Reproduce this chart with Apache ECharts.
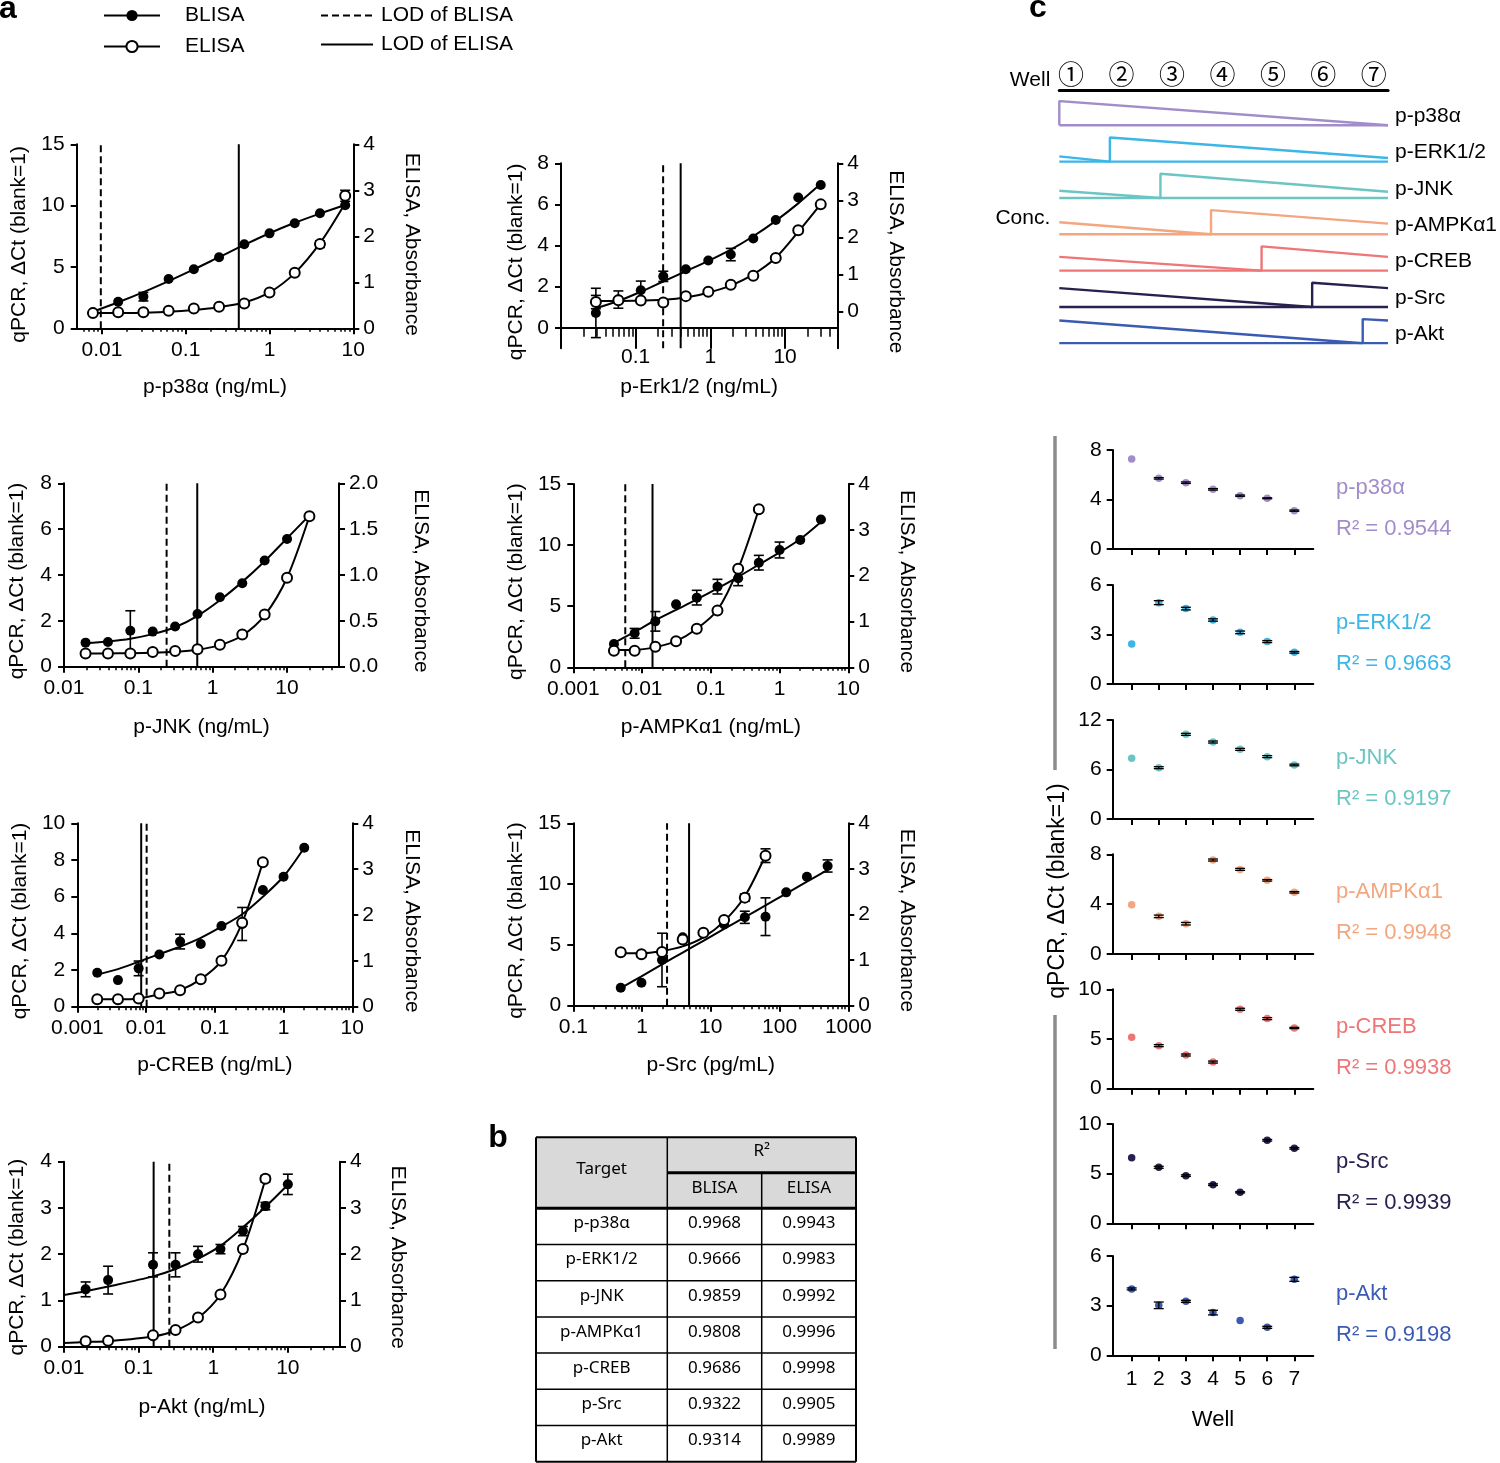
<!DOCTYPE html>
<html>
<head>
<meta charset="utf-8">
<script src="https://cdn.jsdelivr.net/npm/echarts@6.0.0/dist/echarts.min.js"></script>
<style>
html,body{margin:0;padding:0;background:#fff;}
#chart{width:1500px;height:1463px;}
</style>
</head>
<body>
<div id="chart"></div>
<script>
// ================= DATA =================
// ---- Panel a: standard curves ----
const p38X = [0.0078125, 0.015625, 0.03125, 0.0625, 0.125, 0.25, 0.5, 1, 2, 4, 8];
const p38Blisa = [1.3, 2.17, 2.58, 4.02, 4.81, 5.79, 6.85, 7.74, 8.56, 9.38, 10.03];
const p38BlisaErr = [0, 0, 0.35, 0, 0, 0, 0, 0, 0, 0, 0];
const p38BlisaFit = [1.35, 2.12, 2.95, 3.85, 4.8, 5.8, 6.8, 7.75, 8.6, 9.35, 10.05];
const p38Elisa = [0.33, 0.35, 0.35, 0.38, 0.43, 0.47, 0.54, 0.78, 1.21, 1.83, 2.88];
const p38ElisaErr = [0, 0, 0, 0, 0, 0, 0, 0, 0, 0.07, 0.12];
const p38ElisaFit = [0.33, 0.33, 0.34, 0.36, 0.4, 0.46, 0.56, 0.78, 1.2, 1.85, 2.72];
const p38Lod = [0.0097, 0.43];

const erkX = [0.0293, 0.0586, 0.117, 0.234, 0.469, 0.9375, 1.875, 3.75, 7.5, 15, 30];
const erkBlisa = [0.72, 1.37, 1.82, 2.5, 2.85, 3.27, 3.56, 4.34, 5.24, 6.34, 6.94];
const erkBlisaErr = [1.2, 0.42, 0.45, 0.25, 0, 0, 0.3, 0, 0, 0, 0];
const erkBlisaFit = [0.95, 1.3, 1.75, 2.25, 2.75, 3.25, 3.8, 4.45, 5.2, 6.05, 7.0];
const erkElisa = [0.25, 0.3, 0.29, 0.24, 0.41, 0.53, 0.72, 0.96, 1.44, 2.19, 2.89];
const erkElisaErr = [0.18, 0, 0, 0, 0, 0, 0, 0, 0, 0, 0];
const erkElisaFit = [0.28, 0.28, 0.29, 0.31, 0.37, 0.5, 0.7, 1.0, 1.45, 2.15, 2.9];
const erkLod = [0.233, 0.4];

const jnkX = [0.0195, 0.039, 0.078, 0.156, 0.3125, 0.625, 1.25, 2.5, 5, 10, 20];
const jnkBlisa = [1.05, 1.08, 1.57, 1.53, 1.75, 2.3, 3.03, 3.64, 4.63, 5.57, 6.57];
const jnkBlisaErr = [0, 0, 0.87, 0, 0, 0, 0, 0, 0, 0, 0];
const jnkBlisaFit = [1.02, 1.1, 1.22, 1.42, 1.72, 2.22, 2.9, 3.7, 4.6, 5.6, 6.6];
const jnkElisa = [0.145, 0.145, 0.145, 0.16, 0.17, 0.19, 0.24, 0.35, 0.57, 0.97, 1.64];
const jnkElisaErr = [0, 0, 0, 0, 0, 0, 0, 0, 0, 0, 0];
const jnkElisaFit = [0.145, 0.145, 0.147, 0.152, 0.163, 0.185, 0.235, 0.34, 0.56, 0.97, 1.64];
const jnkLod = [0.24, 0.62];

const ampkX = [0.0039, 0.0078, 0.0156, 0.03125, 0.0625, 0.125, 0.25, 0.5, 1, 2, 4];
const ampkBlisa = [1.91, 2.78, 3.76, 5.15, 5.7, 6.6, 7.28, 8.56, 9.6, 10.42, 12.1];
const ampkBlisaErr = [0, 0.4, 0.8, 0, 0.6, 0.6, 0.6, 0.6, 0.65, 0, 0];
const ampkBlisaFit = [2.0, 2.9, 3.85, 4.7, 5.55, 6.45, 7.4, 8.4, 9.4, 10.5, 11.9];
const ampkElisaX = [0.0039, 0.0078, 0.0156, 0.03125, 0.0625, 0.125, 0.25, 0.5];
const ampkElisa = [0.36, 0.36, 0.45, 0.57, 0.84, 1.24, 2.15, 3.45];
const ampkElisaErr = [0, 0, 0, 0, 0, 0, 0, 0];
const ampkElisaFit = [0.38, 0.38, 0.44, 0.57, 0.84, 1.25, 2.15, 3.45];
const ampkLod = [0.0057, 0.0142];

const crebX = [0.00195, 0.0039, 0.0078, 0.0156, 0.03125, 0.0625, 0.125, 0.25, 0.5, 1, 2];
const crebBlisa = [1.85, 1.45, 2.09, 2.85, 3.55, 3.42, 4.4, 4.51, 6.36, 7.09, 8.67];
const crebBlisaErr = [0, 0, 0.4, 0, 0.4, 0, 0, 0.9, 0, 0, 0];
const crebBlisaFit = [1.75, 2.05, 2.45, 2.87, 3.27, 3.75, 4.36, 5.04, 6.0, 7.1, 8.67];
const crebElisaX = [0.00195, 0.0039, 0.0078, 0.0156, 0.03125, 0.0625, 0.125, 0.25, 0.5];
const crebElisa = [0.16, 0.16, 0.18, 0.29, 0.36, 0.6, 1.0, 1.83, 3.15];
const crebElisaErr = [0, 0, 0, 0, 0, 0, 0, 0, 0];
const crebElisaFit = [0.16, 0.16, 0.18, 0.27, 0.36, 0.6, 1.0, 1.83, 3.15];
const crebLod = [0.0102, 0.0085];

const srcX = [0.49, 0.98, 1.95, 3.9, 7.8, 15.6, 31.25, 62.5, 125, 250, 500];
const srcBlisa = [1.48, 1.89, 3.76, 5.62, 6.03, 6.69, 7.27, 7.32, 9.32, 10.61, 11.49];
const srcBlisaErr = [0, 0, 2.2, 0, 0, 0, 0.5, 1.55, 0, 0, 0.5];
const srcBlisaFit = [1.45, 2.42, 3.4, 4.37, 5.34, 6.31, 7.28, 8.25, 9.22, 10.2, 11.16];
const srcElisaX = [0.49, 0.98, 1.95, 3.9, 7.8, 15.6, 31.25, 62.5];
const srcElisa = [1.17, 1.13, 1.18, 1.45, 1.6, 1.88, 2.37, 3.29];
const srcElisaErr = [0, 0, 0, 0, 0, 0, 0.08, 0.15];
const srcElisaFit = [1.15, 1.15, 1.2, 1.3, 1.5, 1.85, 2.4, 3.3];
const srcLod = [2.31, 4.83];

const aktX = [0.0195, 0.039, 0.156, 0.3125, 0.625, 1.25, 2.5, 5, 10];
const aktBlisa = [1.24, 1.44, 1.77, 1.77, 2.0, 2.11, 2.5, 3.04, 3.51];
const aktBlisaErr = [0.16, 0.3, 0.26, 0.26, 0.17, 0.1, 0.1, 0.08, 0.22];
const aktBlisaFitX = [0.01, 0.0195, 0.039, 0.156, 0.3125, 0.625, 1.25, 2.5, 5, 10];
const aktBlisaFit = [1.12, 1.2, 1.3, 1.52, 1.68, 1.9, 2.18, 2.58, 3.02, 3.5];
const aktElisaX = [0.0195, 0.039, 0.156, 0.3125, 0.625, 1.25, 2.5, 5];
const aktElisa = [0.12, 0.13, 0.25, 0.36, 0.63, 1.13, 2.11, 3.63];
const aktElisaErr = [0, 0, 0, 0, 0, 0, 0.06, 0.07];
const aktElisaFitX = [0.01, 0.0195, 0.039, 0.156, 0.3125, 0.625, 1.25, 2.5, 5];
const aktElisaFit = [0.08, 0.1, 0.12, 0.22, 0.35, 0.62, 1.13, 2.1, 3.62];
const aktLod = [0.258, 0.159];

const minorMultipliers = [2, 3, 4, 5, 6, 7, 8, 9];

// ---- Panel b: table ----
const tableHead = ['Target', 'BLISA', 'ELISA'];
const tableTargets = ['p-p38α', 'p-ERK1/2', 'p-JNK', 'p-AMPKα1', 'p-CREB', 'p-Src', 'p-Akt'];
const tableBlisa = ['0.9968', '0.9666', '0.9859', '0.9808', '0.9686', '0.9322', '0.9314'];
const tableElisa = ['0.9943', '0.9983', '0.9992', '0.9996', '0.9998', '0.9905', '0.9989'];

// ---- Panel c ----
const wells = [1, 2, 3, 4, 5, 6, 7];
const wellLabels = ['①', '②', '③', '④', '⑤', '⑥', '⑦'];
const cTargets = ['p-p38α', 'p-ERK1/2', 'p-JNK', 'p-AMPKα1', 'p-CREB', 'p-Src', 'p-Akt'];
const cR2 = ['0.9544', '0.9663', '0.9197', '0.9948', '0.9938', '0.9939', '0.9198'];
const cColors = ['#a18dc9', '#3cb6e7', '#6cc5c3', '#f3a67f', '#ee7677', '#27214f', '#3a5bb1'];
const concPeakWell = [1, 2, 3, 4, 5, 6, 7];
const concRightEnd = [0, 0.15, 0.26, 0.44, 0.57, 0.78, 0.94];
const concLeftStart = [null, 0.22, 0.3, 0.5, 0.57, 0.78, 0.94];
const cP38 = [7.28, 5.71, 5.36, 4.82, 4.31, 4.1, 3.1];
const cP38Err = [0, 0.06, 0.06, 0.06, 0.05, 0.04, 0.05];
const cErk = [2.42, 4.93, 4.57, 3.88, 3.13, 2.57, 1.92];
const cErkErr = [0, 0.12, 0.08, 0.07, 0.08, 0.06, 0.05];
const cJnk = [7.35, 6.22, 10.26, 9.33, 8.44, 7.56, 6.55];
const cJnkErr = [0, 0.12, 0.12, 0.12, 0.12, 0.12, 0.1];
const cAmpk = [3.96, 3.02, 2.43, 7.54, 6.79, 5.91, 4.95];
const cAmpkErr = [0, 0.1, 0.1, 0.08, 0.08, 0.06, 0.06];
const cCreb = [5.17, 4.33, 3.39, 2.68, 7.99, 7.05, 6.11];
const cCrebErr = [0, 0.1, 0.1, 0.1, 0.1, 0.1, 0.06];
const cSrc = [6.61, 5.64, 4.8, 3.89, 3.12, 8.36, 7.55];
const cSrcErr = [0, 0.1, 0.08, 0.08, 0.06, 0.08, 0.08];
const cAkt = [4.01, 3.02, 3.26, 2.58, 2.11, 1.69, 4.59];
const cAktErr = [0.06, 0.2, 0.06, 0.14, 0, 0.06, 0.12];
const cYMax = [8, 6, 12, 8, 10, 10, 6];
const cYTicks = [[0, 4, 8], [0, 3, 6], [0, 6, 12], [0, 4, 8], [0, 5, 10], [0, 5, 10], [0, 3, 6]];

// ================= LAYOUT / BUILD =================
const FONT = '"Liberation Sans", Arial, Helvetica, sans-serif';
const TFONT = '"Noto Sans", "Open Sans", sans-serif';
const FS = 21;

const aPlots = [
  {xName: 'p-p38α (ng/mL)', box: [76.7, 144.3, 276.6, 184], xr: [0.005, 10], xt: [0.01, 0.1, 1, 10],
   yl: [0, 15], ylt: [0, 5, 10, 15], yr: [0, 4], yrt: [0, 1, 2, 3, 4], dec: 0, gL: 47, gR: 48, gX: 48, tl: 6, ml: 3.5, lm: 11, sh: 8,
   bX: p38X, b: p38Blisa, bE: p38BlisaErr, bFX: p38X, bF: p38BlisaFit,
   eX: p38X, e: p38Elisa, eE: p38ElisaErr, eFX: p38X, eF: p38ElisaFit, lod: p38Lod},
  {xName: 'p-Erk1/2 (ng/mL)', box: [561, 163.3, 276.3, 185], xr: [0.01, 50], xt: [0.1, 1, 10],
   yl: [-1, 8], ylt: [0, 2, 4, 6, 8], yr: [-1, 4], yrt: [0, 1, 2, 3, 4], dec: 0, gL: 34, gR: 48, gX: 28, tl: 21, ml: 9, lm: -2, sh: 6,
   bX: erkX, b: erkBlisa, bE: erkBlisaErr, bFX: erkX, bF: erkBlisaFit,
   eX: erkX, e: erkElisa, eE: erkElisaErr, eFX: erkX, eF: erkElisaFit, lod: erkLod},
  {xName: 'p-JNK (ng/mL)', box: [64, 483.3, 275, 183.4], xr: [0.01, 50], xt: [0.01, 0.1, 1, 10],
   yl: [0, 8], ylt: [0, 2, 4, 6, 8], yr: [0, 2], yrt: [0, 0.5, 1, 1.5, 2], dec: 1, gL: 36, gR: 71, gX: 50, tl: 6, ml: 3.5, lm: 11, sh: 6,
   bX: jnkX, b: jnkBlisa, bE: jnkBlisaErr, bFX: jnkX, bF: jnkBlisaFit,
   eX: jnkX, e: jnkElisa, eE: jnkElisaErr, eFX: jnkX, eF: jnkElisaFit, lod: jnkLod},
  {xName: 'p-AMPKα1 (ng/mL)', box: [573.3, 484, 275, 183.3], xr: [0.001, 10], xt: [0.001, 0.01, 0.1, 1, 10],
   yl: [0, 15], ylt: [0, 5, 10, 15], yr: [0, 4], yrt: [0, 1, 2, 3, 4], dec: 0, gL: 47, gR: 48, gX: 49, tl: 6, ml: 3.5, lm: 11, sh: 6,
   bX: ampkX, b: ampkBlisa, bE: ampkBlisaErr, bFX: ampkX, bF: ampkBlisaFit,
   eX: ampkElisaX, e: ampkElisa, eE: ampkElisaErr, eFX: ampkElisaX, eF: ampkElisaFit, lod: ampkLod},
  {xName: 'p-CREB (ng/mL)', box: [77.3, 823.3, 275, 183.4], xr: [0.001, 10], xt: [0.001, 0.01, 0.1, 1, 10],
   yl: [0, 10], ylt: [0, 2, 4, 6, 8, 10], yr: [0, 4], yrt: [0, 1, 2, 3, 4], dec: 0, gL: 47, gR: 49, gX: 48, tl: 6, ml: 3.5, lm: 11, sh: 6,
   bX: crebX, b: crebBlisa, bE: crebBlisaErr, bFX: crebX, bF: crebBlisaFit,
   eX: crebElisaX, e: crebElisa, eE: crebElisaErr, eFX: crebElisaX, eF: crebElisaFit, lod: crebLod},
  {xName: 'p-Src (pg/mL)', box: [573.3, 823.3, 275, 182.4], xr: [0.1, 1000], xt: [0.1, 1, 10, 100, 1000],
   yl: [0, 15], ylt: [0, 5, 10, 15], yr: [0, 4], yrt: [0, 1, 2, 3, 4], dec: 0, gL: 47, gR: 48, gX: 49, tl: 6, ml: 3.5, lm: 11, sh: 6,
   bX: srcX, b: srcBlisa, bE: srcBlisaErr, bFX: srcX, bF: srcBlisaFit,
   eX: srcElisaX, e: srcElisa, eE: srcElisaErr, eFX: srcElisaX, eF: srcElisaFit, lod: srcLod},
  {xName: 'p-Akt (ng/mL)', box: [64, 1161.7, 276, 185], xr: [0.01, 50], xt: [0.01, 0.1, 1, 10],
   yl: [0, 4], ylt: [0, 1, 2, 3, 4], yr: [0, 4], yrt: [0, 1, 2, 3, 4], dec: 0, gL: 36, gR: 47, gX: 50, tl: 6, ml: 3.5, lm: 11, sh: 3,
   bX: aktX, b: aktBlisa, bE: aktBlisaErr, bFX: aktBlisaFitX, bF: aktBlisaFit,
   eX: aktElisaX, e: aktElisa, eE: aktElisaErr, eFX: aktElisaFitX, eF: aktElisaFit, lod: aktLod}
];

const cVals = [cP38, cErk, cJnk, cAmpk, cCreb, cSrc, cAkt];
const cErrs = [cP38Err, cErkErr, cJnkErr, cAmpkErr, cCrebErr, cSrcErr, cAktErr];
const cBoxes = [[450, 549], [585, 684], [720, 819], [854.3, 954], [989.3, 1088.7], [1124, 1223.3], [1256, 1355.3]];

function zip(xs, ys) { return xs.map((x, i) => [x, ys[i]]); }
function zipErr(xs, ys, es) {
  const out = [];
  xs.forEach((x, i) => { if (es[i] > 0) out.push([x, ys[i], es[i]]); });
  return out;
}
function logMinors(min, max) {
  const out = [];
  for (let k = Math.floor(Math.log10(min)); k <= Math.ceil(Math.log10(max)); k++) {
    minorMultipliers.forEach(m => {
      const v = +(m * Math.pow(10, k)).toPrecision(6);
      if (v > min * 1.0001 && v < max * 0.9999) out.push(v);
    });
  }
  return out;
}
function errRender(cap, width) {
  return function (params, api) {
    const x = api.value(0), y = api.value(1), e = api.value(2);
    const hi = api.coord([x, y + e]), lo = api.coord([x, y - e]);
    const st = () => ({stroke: '#000', lineWidth: width});
    return {type: 'group', children: [
      {type: 'line', shape: {x1: hi[0], y1: hi[1], x2: lo[0], y2: lo[1]}, style: st()},
      {type: 'line', shape: {x1: hi[0] - cap, y1: hi[1], x2: hi[0] + cap, y2: hi[1]}, style: st()},
      {type: 'line', shape: {x1: lo[0] - cap, y1: lo[1], x2: lo[0] + cap, y2: lo[1]}, style: st()}
    ]};
  };
}

const txt = (size) => ({color: '#000', fontSize: size, fontFamily: FONT});
const axLine = {show: true, onZero: false, lineStyle: {color: '#000', width: 2}};

const option = {
  animation: false,
  backgroundColor: '#fff',
  grid: [], xAxis: [], yAxis: [], series: [],
  legend: [
    {left: 103, top: 5, padding: 0, orient: 'vertical', itemWidth: 56, itemHeight: 14, itemGap: 10,
     selectedMode: false, data: ['BLISA', 'ELISA'],
     textStyle: {color: '#000', fontSize: 21, fontFamily: FONT, padding: [0, 0, 0, 20]}},
    {left: 320, top: 5, padding: 0, orient: 'vertical', itemWidth: 52, itemHeight: 14, itemGap: 8,
     selectedMode: false,
     data: [{name: 'LOD of BLISA', itemStyle: {opacity: 0}}, {name: 'LOD of ELISA', itemStyle: {opacity: 0}}],
     textStyle: {color: '#000', fontSize: 21, fontFamily: FONT, padding: [0, 0, 0, 3]}}
  ],
  graphic: {elements: []}
};

// ---- Panel a ----
aPlots.forEach(p => {
  const g = option.grid.length;
  option.grid.push({left: p.box[0], top: p.box[1], width: p.box[2], height: p.box[3], outerBoundsMode: 'none', containLabel: false});
  const xi = option.xAxis.length;
  const yl = option.yAxis.length, yr = yl + 1;
  option.xAxis.push({
    type: 'log', logBase: 10, gridIndex: g, min: p.xr[0], max: p.xr[1], position: 'bottom',
    axisLine: {show: true, onZero: true, onZeroAxisIndex: yl, lineStyle: {color: '#000', width: 2}},
    axisTick: {show: true, customValues: p.xt, length: p.tl, lineStyle: {color: '#000', width: 2}},
    axisLabel: {show: true, customValues: p.xt, formatter: v => String(v), margin: p.lm, ...txt(FS)},
    splitLine: {show: false}, minorTick: {show: false},
    name: p.xName, nameLocation: 'middle', nameGap: p.gX, nameMoveOverlap: false, nameTextStyle: txt(FS)
  });
  option.xAxis.push({
    type: 'log', logBase: 10, gridIndex: g, min: p.xr[0], max: p.xr[1], position: 'bottom',
    axisLine: {show: false, onZero: true, onZeroAxisIndex: yl},
    axisTick: {show: true, customValues: logMinors(p.xr[0], p.xr[1]), length: p.ml, lineStyle: {color: '#000', width: 1.5}},
    axisLabel: {show: false}, splitLine: {show: false}
  });
  option.yAxis.push({
    type: 'value', gridIndex: g, min: p.yl[0], max: p.yl[1], position: 'left',
    axisLine: axLine,
    axisTick: {show: true, customValues: p.ylt, length: 6, lineStyle: {color: '#000', width: 2}},
    axisLabel: {show: true, customValues: p.ylt, margin: 12, ...txt(FS)},
    splitLine: {show: false},
    name: 'qPCR, ΔCt (blank=1)', nameLocation: 'middle', nameGap: p.gL, nameRotate: 90, nameMoveOverlap: false,
    nameTextStyle: {...txt(FS), padding: [0, 2 * p.sh, 0, 0]}
  });
  option.yAxis.push({
    type: 'value', gridIndex: g, min: p.yr[0], max: p.yr[1], position: 'right',
    axisLine: axLine,
    axisTick: {show: true, customValues: p.yrt, length: 6, lineStyle: {color: '#000', width: 2}},
    axisLabel: {show: true, customValues: p.yrt, margin: 10, formatter: v => Number(v).toFixed(p.dec), ...txt(FS)},
    splitLine: {show: false},
    name: 'ELISA, Absorbance', nameLocation: 'middle', nameGap: p.gR, nameRotate: -90, nameMoveOverlap: false,
    nameTextStyle: {...txt(FS), padding: [0, 0, 0, 2 * p.sh]}
  });
  const S = option.series;
  S.push({type: 'line', name: 'BLISA', xAxisIndex: xi, yAxisIndex: yl, data: zip(p.bFX, p.bF), smooth: 0.3,
    symbol: 'circle', symbolSize: 11, showSymbol: false, silent: true, z: 3,
    lineStyle: {color: '#000', width: 2}, itemStyle: {color: '#000', opacity: 1}});
  S.push({type: 'line', name: 'ELISA', xAxisIndex: xi, yAxisIndex: yr, data: zip(p.eFX, p.eF), smooth: 0.3,
    symbol: 'circle', symbolSize: 11, showSymbol: false, silent: true, z: 3,
    lineStyle: {color: '#000', width: 2}, itemStyle: {color: '#fff', borderColor: '#000', borderWidth: 2, opacity: 1}});
  S.push({type: 'line', name: 'LOD of BLISA', xAxisIndex: xi, yAxisIndex: yl,
    data: [[p.lod[0], p.yl[0]], [p.lod[0], p.yl[1]]], symbol: 'none', silent: true, z: 2,
    lineStyle: {color: '#000', width: 2, type: [7, 4]}});
  S.push({type: 'line', name: 'LOD of ELISA', xAxisIndex: xi, yAxisIndex: yl,
    data: [[p.lod[1], p.yl[0]], [p.lod[1], p.yl[1]]], symbol: 'none', silent: true, z: 2,
    lineStyle: {color: '#000', width: 2, type: 'solid'}});
  S.push({type: 'custom', name: 'BLISA error', xAxisIndex: xi, yAxisIndex: yl, data: zipErr(p.bX, p.b, p.bE),
    encode: {x: 0, y: 1}, renderItem: errRender(5, 1.6), silent: true, z: 4});
  S.push({type: 'custom', name: 'ELISA error', xAxisIndex: xi, yAxisIndex: yr, data: zipErr(p.eX, p.e, p.eE),
    encode: {x: 0, y: 1}, renderItem: errRender(5, 1.6), silent: true, z: 4});
  S.push({type: 'scatter', name: 'BLISA', xAxisIndex: xi, yAxisIndex: yl, data: zip(p.bX, p.b),
    symbol: 'circle', symbolSize: 10, itemStyle: {color: '#000', opacity: 1}, silent: true, z: 5});
  S.push({type: 'scatter', name: 'ELISA', xAxisIndex: xi, yAxisIndex: yr, data: zip(p.eX, p.e),
    symbol: 'circle', symbolSize: 10, itemStyle: {color: '#fff', borderColor: '#000', borderWidth: 2, opacity: 1}, silent: true, z: 5});
});

// ---- Panel c: concentration diagram ----
(function () {
  const g = option.grid.length;
  option.grid.push({left: 1059.3, top: 101.1, width: 328.7, height: 242.2, outerBoundsMode: 'none', containLabel: false});
  const xi = option.xAxis.length;
  option.xAxis.push({type: 'value', gridIndex: g, min: 0.5, max: 7, show: false});
  option.xAxis.push({
    type: 'value', gridIndex: g, min: 0.77, max: 7.28, position: 'top', offset: 10.4,
    axisLine: {show: true, onZero: false, lineStyle: {color: '#000', width: 3.2}},
    axisTick: {show: false},
    axisLabel: {show: true, customValues: wells, formatter: v => wellLabels[Math.round(v) - 1], margin: 4,
      color: '#000', fontSize: 26, fontFamily: '"Noto Sans CJK SC", "DejaVu Sans", sans-serif'},
    splitLine: {show: false},
    name: 'Well', nameLocation: 'start', nameGap: 9, nameMoveOverlap: false,
    nameTextStyle: {...txt(21), verticalAlign: 'bottom'}
  });
  const yi = option.yAxis.length;
  option.yAxis.push({
    type: 'value', gridIndex: g, min: 0, max: 10,
    axisLine: {show: false}, axisTick: {show: false}, axisLabel: {show: false}, splitLine: {show: false},
    name: 'Conc.', nameLocation: 'middle', nameRotate: 0, nameGap: 9, nameMoveOverlap: false,
    nameTextStyle: {...txt(21), align: 'right', verticalAlign: 'bottom', lineHeight: 8}
  });
  const rowStep = 1.5;
  cTargets.forEach((t, r) => {
    const base = (cTargets.length - 1 - r) * rowStep;
    const s = concPeakWell[r] - 0.5;
    const tri = [];
    if (concLeftStart[r] != null) { tri.push([0.5, base + concLeftStart[r]]); tri.push([s, base]); }
    else tri.push([s, base]);
    tri.push([s, base + 1]);
    tri.push([7, base + concRightEnd[r]]);
    option.series.push({type: 'line', name: t + ' conc', xAxisIndex: xi, yAxisIndex: yi, data: tri,
      symbol: 'none', silent: true, lineStyle: {color: cColors[r], width: 2.4}, z: 3});
    option.series.push({type: 'line', name: t + ' base', xAxisIndex: xi, yAxisIndex: yi,
      data: [[0.5, base], [7, base]], symbol: 'none', silent: true, lineStyle: {color: cColors[r], width: 2.4}, z: 3,
      endLabel: {show: true, formatter: t, distance: 7, offset: [0, -9], ...txt(21)}});
  });
})();

// ---- Panel c: per-well scatter plots ----
cTargets.forEach((t, r) => {
  const g = option.grid.length;
  const top = cBoxes[r][0], bottom = cBoxes[r][1];
  option.grid.push({left: 1112.7, top: top, width: 200.6, height: bottom - top, outerBoundsMode: 'none', containLabel: false});
  const last = r === cTargets.length - 1;
  const xi = option.xAxis.length, yi = option.yAxis.length;
  option.xAxis.push({
    type: 'value', gridIndex: g, min: 0.3, max: 7.7,
    axisLine: {show: true, onZero: false, lineStyle: {color: '#000', width: 2}},
    axisTick: {show: true, customValues: wells, length: 6, lineStyle: {color: '#000', width: 2}},
    axisLabel: {show: last, customValues: wells, margin: 13, ...txt(21)},
    splitLine: {show: false},
    name: last ? 'Well' : '', nameLocation: 'middle', nameGap: 54, nameMoveOverlap: false, nameTextStyle: txt(22)
  });
  option.yAxis.push({
    type: 'value', gridIndex: g, min: 0, max: cYMax[r],
    axisLine: axLine,
    axisTick: {show: true, customValues: cYTicks[r], length: 6, lineStyle: {color: '#000', width: 2}},
    axisLabel: {show: true, customValues: cYTicks[r], margin: 11, ...txt(21)},
    splitLine: {show: false}
  });
  option.series.push({type: 'scatter', name: t, xAxisIndex: xi, yAxisIndex: yi, data: zip(wells, cVals[r]),
    symbol: 'circle', symbolSize: 7.5, itemStyle: {color: cColors[r], opacity: 1}, silent: true, z: 4});
  option.series.push({type: 'custom', name: t + ' error', xAxisIndex: xi, yAxisIndex: yi, data: zipErr(wells, cVals[r], cErrs[r]),
    encode: {x: 0, y: 1}, renderItem: errRender(5, 1.3), silent: true, z: 5});
  option.graphic.elements.push({type: 'text', x: 1336, y: top + 38,
    style: {text: t, fill: cColors[r], fontSize: 22, fontFamily: FONT, align: 'left', verticalAlign: 'middle', textAlign: 'left', textVerticalAlign: 'middle'}});
  option.graphic.elements.push({type: 'text', x: 1336, y: top + 79,
    style: {text: 'R² = ' + cR2[r], fill: cColors[r], fontSize: 22, fontFamily: FONT, align: 'left', verticalAlign: 'middle', textAlign: 'left', textVerticalAlign: 'middle'}});
});

// ---- Decorations & labels (graphic) ----
const G = option.graphic.elements;
function gText(text, x, y, opts) {
  G.push(Object.assign({type: 'text', x: x, y: y,
    style: Object.assign({text: text, fill: '#000', fontSize: 20, fontFamily: FONT, align: 'center', verticalAlign: 'middle',
      textAlign: 'center', textVerticalAlign: 'middle'}, opts && opts.style)}, opts && opts.el));
}
function gLine(x1, y1, x2, y2, w, color) {
  G.push({type: 'line', shape: {x1, y1, x2, y2}, style: {stroke: color || '#000', lineWidth: w}});
}
// panel letters
gText('a', 8, 9, {style: {fontSize: 32, fontWeight: 'bold'}});
gText('b', 498, 1138, {style: {fontSize: 32, fontWeight: 'bold'}});
gText('c', 1038, 8, {style: {fontSize: 32, fontWeight: 'bold'}});
// panel c y-axis title and brackets
gText('qPCR, ΔCt (blank=1)', 1058, 891, {el: {rotation: Math.PI / 2}, style: {fontSize: 23}});
gLine(1055, 436, 1055, 770, 3.5, '#8c8c8c');
gLine(1055, 1015, 1055, 1349, 3.5, '#8c8c8c');

// panel b table
(function () {
  const X = [536, 667.3, 761.7, 856];
  const Y0 = 1137.3, YR = 1172.7, YH = 1208.3, RH = 36.2;
  const n = tableTargets.length;
  const Yend = YH + RH * n;
  G.push({type: 'rect', shape: {x: X[0], y: Y0, width: X[3] - X[0], height: YH - Y0}, style: {fill: '#d9d9d9'}});
  gLine(X[0], Y0, X[3], Y0, 2);
  gLine(X[1], YR, X[3], YR, 3);
  gLine(X[0], YH, X[3], YH, 3);
  for (let i = 1; i <= n; i++) gLine(X[0], YH + RH * i, X[3], YH + RH * i, i === n ? 2 : 1.5);
  gLine(X[0], Y0, X[0], Yend, 2);
  gLine(X[3], Y0, X[3], Yend, 2);
  gLine(X[1], Y0, X[1], Yend, 1.5);
  gLine(X[2], YR, X[2], Yend, 1.5);
  const ts = {fontSize: 17, fontFamily: TFONT};
  gText(tableHead[0], (X[0] + X[1]) / 2, 1169, {style: ts});
  gText('R²', (X[1] + X[3]) / 2, 1151, {style: ts});
  gText(tableHead[1], (X[1] + X[2]) / 2, 1188, {style: ts});
  gText(tableHead[2], (X[2] + X[3]) / 2, 1188, {style: ts});
  tableTargets.forEach((t, i) => {
    const yc = YH + RH * i + RH / 2 - 3;
    gText(t, (X[0] + X[1]) / 2, yc, {style: ts});
    gText(tableBlisa[i], (X[1] + X[2]) / 2, yc, {style: ts});
    gText(tableElisa[i], (X[2] + X[3]) / 2, yc, {style: ts});
  });
})();

const chart = echarts.init(document.getElementById('chart'), null, {renderer: 'canvas', width: 1500, height: 1463});
chart.setOption(option);
</script>
</body>
</html>
